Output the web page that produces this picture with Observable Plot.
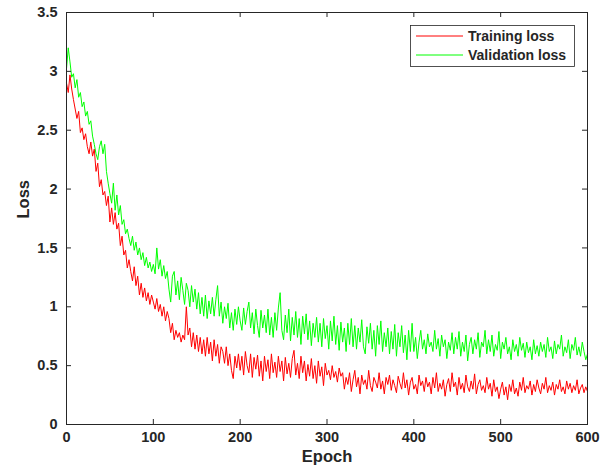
<!DOCTYPE html>
<html><head><meta charset="utf-8">
<script src="https://cdn.jsdelivr.net/npm/d3@7"></script>
<script src="https://cdn.jsdelivr.net/npm/@observablehq/plot@0.6"></script>
<style>body{margin:0;background:#fff}#chart{width:611px;height:471px}</style>
</head><body><div id="chart"></div>
<script>
// Epoch spacing between recorded values
const step = 2;
const xTicks = [0, 100, 200, 300, 400, 500, 600];
const xTickLabels = ["0", "100", "200", "300", "400", "500", "600"];
const yTicks = [0, 0.5, 1, 1.5, 2, 2.5, 3, 3.5];
const yTickLabels = ["0", "0.5", "1", "1.5", "2", "2.5", "3", "3.5"];
const seriesNames = ["Training loss", "Validation loss"];
const seriesColors = ["#ff0000", "#00ff00"];

const trainingLoss = [
2.90,2.82,2.97,2.85,2.76,2.68,2.60,2.66,2.48,2.52,
2.42,2.47,2.36,2.30,2.40,2.28,2.34,2.15,2.22,2.02,
2.08,1.95,1.98,1.86,1.94,1.72,1.84,1.70,1.80,1.66,
1.71,1.52,1.60,1.44,1.48,1.33,1.40,1.30,1.22,1.34,
1.18,1.26,1.10,1.20,1.08,1.16,1.05,1.12,1.02,1.10,
1.04,0.98,1.07,0.96,1.02,0.92,1.00,0.88,0.96,0.90,
0.78,0.86,0.72,0.80,0.74,0.78,0.70,0.76,0.72,1.00,
0.76,0.82,0.66,0.78,0.64,0.76,0.62,0.74,0.60,0.72,
0.58,0.74,0.60,0.70,0.54,0.72,0.58,0.68,0.52,0.66,
0.62,0.52,0.66,0.50,0.60,0.46,0.39,0.58,0.48,0.60,
0.46,0.58,0.42,0.62,0.50,0.44,0.60,0.40,0.57,0.47,
0.59,0.41,0.54,0.37,0.58,0.45,0.55,0.39,0.60,0.44,
0.53,0.40,0.58,0.45,0.54,0.37,0.57,0.43,0.52,0.40,
0.56,0.63,0.42,0.52,0.39,0.58,0.44,0.54,0.37,0.51,
0.41,0.56,0.39,0.50,0.35,0.54,0.41,0.49,0.33,0.52,
0.42,0.46,0.38,0.50,0.40,0.45,0.36,0.48,0.41,0.44,
0.30,0.40,0.34,0.44,0.28,0.38,0.46,0.32,0.40,0.26,
0.42,0.34,0.38,0.30,0.46,0.33,0.28,0.40,0.36,0.31,
0.44,0.30,0.37,0.26,0.40,0.34,0.42,0.29,0.38,0.33,
0.27,0.41,0.35,0.30,0.44,0.31,0.38,0.25,0.36,0.40,
0.30,0.34,0.26,0.42,0.33,0.37,0.28,0.40,0.32,0.36,
0.26,0.40,0.31,0.44,0.28,0.35,0.30,0.38,0.24,0.34,
0.39,0.28,0.44,0.32,0.36,0.25,0.40,0.30,0.35,0.27,
0.42,0.32,0.28,0.37,0.30,0.43,0.26,0.34,0.38,0.29,
0.33,0.27,0.40,0.30,0.35,0.24,0.38,0.28,0.32,0.22,
0.30,0.36,0.25,0.32,0.21,0.34,0.28,0.38,0.26,0.31,
0.24,0.36,0.29,0.40,0.27,0.33,0.30,0.37,0.25,0.34,
0.28,0.38,0.31,0.26,0.35,0.30,0.40,0.27,0.33,0.29,
0.36,0.25,0.34,0.30,0.38,0.28,0.32,0.26,0.37,0.30,
0.35,0.27,0.33,0.29,0.38,0.26,0.31,0.34,0.27,0.32,
0.28
];

const validationLoss = [
3.02,3.20,3.08,2.95,2.98,2.86,2.93,2.78,2.82,2.70,
2.74,2.62,2.66,2.55,2.58,2.45,2.38,2.30,2.25,2.36,
2.41,2.30,2.38,2.15,2.05,1.96,1.88,2.05,1.82,1.95,
1.78,1.86,1.70,1.74,1.62,1.66,1.58,1.52,1.60,1.48,
1.55,1.44,1.50,1.40,1.46,1.35,1.42,1.33,1.38,1.30,
1.36,1.28,1.50,1.32,1.40,1.26,1.35,1.24,1.30,1.15,
1.04,1.26,1.30,1.10,1.22,1.06,1.25,1.14,1.02,1.20,
1.14,1.00,1.18,1.04,1.15,0.98,1.12,0.94,1.08,0.92,
1.10,0.90,1.05,0.94,1.08,0.92,1.06,1.18,0.92,1.04,
0.86,1.00,0.90,1.03,0.82,0.95,0.80,0.98,0.85,1.00,
0.88,0.80,0.99,0.85,0.96,1.04,0.82,0.95,0.77,0.98,
0.84,0.74,0.97,0.82,0.93,0.78,0.98,0.76,0.91,0.74,
0.95,0.80,0.99,1.12,0.80,0.72,0.93,0.78,0.98,0.71,
0.91,0.76,0.96,0.74,0.90,0.68,0.92,0.77,0.94,0.72,
0.88,0.67,0.86,0.74,0.91,0.70,0.86,0.66,0.90,0.73,
0.84,0.64,0.88,0.71,0.92,0.68,0.84,0.63,0.87,0.70,
0.82,0.62,0.86,0.68,0.90,0.66,0.84,0.64,0.82,0.70,
0.89,0.66,0.60,0.83,0.69,0.86,0.64,0.80,0.58,0.84,
0.68,0.88,0.62,0.78,0.66,0.82,0.60,0.79,0.64,0.85,
0.58,0.78,0.66,0.84,0.61,0.76,0.55,0.80,0.62,0.86,
0.62,0.74,0.56,0.70,0.80,0.64,0.72,0.60,0.77,0.66,
0.70,0.62,0.80,0.64,0.73,0.58,0.76,0.66,0.72,0.56,
0.70,0.63,0.78,0.60,0.74,0.64,0.79,0.58,0.70,0.62,
0.76,0.54,0.68,0.74,0.60,0.72,0.64,0.78,0.57,0.70,
0.66,0.80,0.60,0.72,0.62,0.76,0.58,0.68,0.63,0.79,
0.56,0.70,0.64,0.74,0.60,0.66,0.55,0.72,0.62,0.68,
0.58,0.74,0.63,0.69,0.57,0.70,0.61,0.66,0.55,0.72,
0.60,0.67,0.58,0.70,0.62,0.68,0.57,0.74,0.62,0.66,
0.56,0.71,0.60,0.68,0.64,0.76,0.58,0.66,0.61,0.72,
0.56,0.68,0.63,0.74,0.59,0.66,0.58,0.70,0.62,0.55,
0.60
];

const rows = [];
trainingLoss.forEach((v, i) => rows.push({epoch: i * step, loss: v, series: seriesNames[0]}));
validationLoss.forEach((v, i) => rows.push({epoch: i * step, loss: v, series: seriesNames[1]}));

const ink = "#262626";
const font = "'Liberation Sans', Arial, Helvetica, sans-serif";

const W = 611, H = 471, mL = 66, mR = 24, mT = 12, mB = 47;
const frameW = W - mL - mR, frameH = H - mT - mB, tick = 5;

const plot = Plot.plot({
  width: W,
  height: H,
  marginLeft: mL,
  marginRight: mR,
  marginTop: mT,
  marginBottom: mB,
  style: {fontFamily: font, fontSize: "14.5px", color: ink, background: "#fff", overflow: "visible"},
  x: {domain: [0, 600]},
  y: {domain: [0, 3.5]},
  color: {domain: seriesNames, range: seriesColors},
  marks: [
    Plot.line(rows, {x: "epoch", y: "loss", z: "series", stroke: "series", strokeWidth: 1}),
    Plot.frame({stroke: ink, strokeWidth: 1}),
    // inward ticks on all four sides (MATLAB box style)
    Plot.ruleX(xTicks, {x: (d) => d, insetTop: frameH - tick, stroke: ink}),
    Plot.ruleX(xTicks, {x: (d) => d, insetBottom: frameH - tick, stroke: ink}),
    Plot.ruleY(yTicks, {y: (d) => d, insetRight: frameW - tick, stroke: ink}),
    Plot.ruleY(yTicks, {y: (d) => d, insetLeft: frameW - tick, stroke: ink}),
    Plot.axisX({anchor: "bottom", ticks: xTicks, tickSize: 0, tickPadding: 7, fontWeight: "bold", fill: ink,
      tickFormat: (d) => xTickLabels[xTicks.indexOf(d)], label: null}),
    Plot.axisY({anchor: "left", ticks: yTicks, tickSize: 0, tickPadding: 9, fontWeight: "bold", fill: ink,
      tickFormat: (d) => yTickLabels[yTicks.indexOf(d)], label: null}),
    Plot.text(["Epoch"], {frameAnchor: "bottom", dy: 37, fontSize: 16.5, fontWeight: "bold", fill: ink}),
    Plot.text(["Loss"], {frameAnchor: "left", dx: -43, rotate: -90, fontSize: 16.5, fontWeight: "bold", fill: ink})
  ]
});

// Legend inside the axes, upper right
const svg = d3.select(plot);
const lg = svg.append("g").attr("font-family", font).attr("font-weight", "bold")
  .attr("font-size", 14).attr("fill", ink).attr("text-anchor", "start");
lg.append("rect").attr("x", 410.5).attr("y", 25.5).attr("width", 164).attr("height", 41)
  .attr("fill", "#fff").attr("stroke", ink).attr("stroke-width", 0.8);
seriesNames.forEach((name, i) => {
  const cy = 36 + i * 19;
  lg.append("line").attr("x1", 416).attr("x2", 463).attr("y1", cy).attr("y2", cy)
    .attr("stroke", seriesColors[i]).attr("stroke-width", 1);
  lg.append("text").attr("x", 468).attr("y", cy).attr("dy", "0.35em").attr("text-anchor", "start").text(name);
});

document.getElementById("chart").appendChild(plot);
</script>
</body></html>
